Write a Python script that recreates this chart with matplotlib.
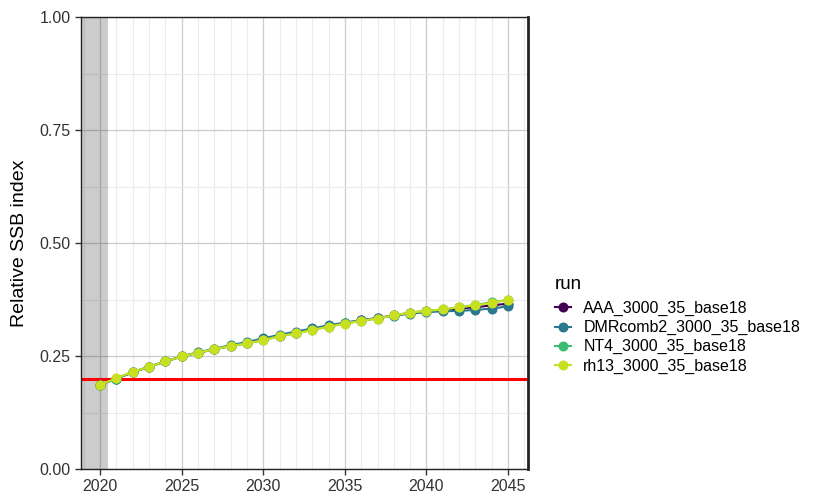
import numpy as np
import matplotlib
matplotlib.use("Agg")
from matplotlib import pyplot as plt

plt.rcParams['font.family'] = ['Liberation Sans', 'DejaVu Sans']

# data
years = list(range(2020, 2046))
runs = ["AAA_3000_35_base18", "DMRcomb2_3000_35_base18",
        "NT4_3000_35_base18", "rh13_3000_35_base18"]
colors = ["#440154", "#2A788E", "#3DBC74", "#C8E020"]

aaa = [0.186, 0.200, 0.214, 0.226, 0.238, 0.249, 0.257, 0.265, 0.272, 0.279,
       0.287, 0.295, 0.302, 0.309, 0.316, 0.323, 0.329, 0.334, 0.340, 0.345,
       0.349, 0.352, 0.355, 0.358, 0.362, 0.366]
dmr = [0.186, 0.200, 0.214, 0.226, 0.238, 0.249, 0.258, 0.266, 0.274, 0.281,
       0.289, 0.297, 0.304, 0.311, 0.318, 0.324, 0.329, 0.334, 0.339, 0.344,
       0.347, 0.349, 0.350, 0.352, 0.355, 0.360]
nt4 = [0.186, 0.200, 0.215, 0.226, 0.238, 0.249, 0.257, 0.265, 0.272, 0.278,
       0.285, 0.294, 0.300, 0.308, 0.315, 0.322, 0.328, 0.333, 0.340, 0.346,
       0.350, 0.353, 0.358, 0.363, 0.369, 0.374]
rh13 = [0.186, 0.201, 0.215, 0.226, 0.238, 0.249, 0.257, 0.265, 0.272, 0.278,
        0.285, 0.294, 0.300, 0.3075, 0.315, 0.3215, 0.328, 0.333, 0.340, 0.346,
        0.350, 0.353, 0.358, 0.362, 0.368, 0.374]
series = [aaa, dmr, nt4, rh13]

ref_level = 0.2
shade_end = 2020.5

fig = plt.figure(figsize=(8.16, 4.95), dpi=100)
ax = fig.add_axes([0.0993, 0.0525, 0.548, 0.913])

# grey band drawn over the grid, semi transparent
ax.axvspan(2018.84, shade_end, color="black", alpha=0.2, lw=0, zorder=1)
ax.axhline(ref_level, color="red", lw=2.2, zorder=2)

for name, vals, c in zip(runs, series, colors):
    ax.plot(years, vals, color=c, lw=1.5, marker="o", ms=6.2,
            label=name, zorder=3)

ax.set_xlim(2018.84, 2046.23)
ax.set_ylim(0, 1)
ax.set_xticks(range(2020, 2046, 5))
ax.set_xticks(range(2019, 2047), minor=True)
ax.set_yticks([0, 0.25, 0.5, 0.75, 1.0])
ax.set_yticks([0.125, 0.375, 0.625, 0.875], minor=True)
ax.set_yticklabels(["0.00", "0.25", "0.50", "0.75", "1.00"])
ax.grid(which="major", color="#cccccc", lw=0.9, zorder=0)
ax.grid(which="minor", color="#ebebeb", lw=0.8, zorder=0)
ax.set_axisbelow(True)
ax.tick_params(which="minor", length=0)
ax.tick_params(which="major", length=4, width=1, labelsize=11.5,
               colors="#333333", labelcolor="#333333")
for s in ax.spines.values():
    s.set_color("#222222")
    s.set_linewidth(1.0)
ax.spines["right"].set_linewidth(2.0)
ax.set_ylabel("Relative SSB index", fontsize=14, labelpad=8)

handles, labels = ax.get_legend_handles_labels()
leg = fig.legend(handles, labels, title="run", loc="upper left",
                 bbox_to_anchor=(0.662, 0.472), frameon=False,
                 fontsize=11.5, title_fontsize=13.5, handlelength=1.0,
                 handletextpad=0.8, labelspacing=0.25)
leg._legend_box.align = "left"
leg._legend_box.sep = 6

fig.savefig("out.png", dpi=100)
